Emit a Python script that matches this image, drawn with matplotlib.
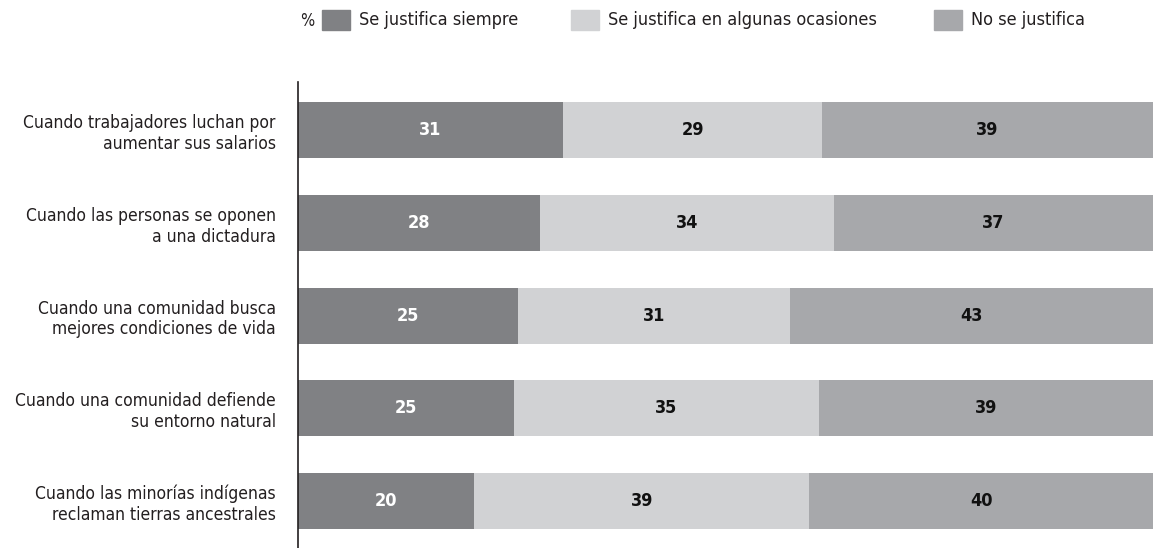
import matplotlib.pyplot as plt
from matplotlib.patches import Rectangle
import numpy as np

# Datos (en %)
categorias = [
    "Cuando trabajadores luchan por\naumentar sus salarios",
    "Cuando las personas se oponen\na una dictadura",
    "Cuando una comunidad busca\nmejores condiciones de vida",
    "Cuando una comunidad defiende\nsu entorno natural",
    "Cuando las minorías indígenas\nreclaman tierras ancestrales",
]
series = ["Se justifica siempre", "Se justifica en algunas ocasiones", "No se justifica"]

# largo de las barras
siempre = [31.0, 28.3, 25.7, 25.3, 20.6]
algunas = [30.3, 34.4, 31.9, 35.6, 39.2]
no_just = [38.7, 37.3, 42.4, 39.1, 40.2]

# etiquetas impresas
etiq_siempre = [31, 28, 25, 25, 20]
etiq_algunas = [29, 34, 31, 35, 39]
etiq_no = [39, 37, 43, 39, 40]

colores = ["#808184", "#d1d2d4", "#a7a8ab"]
color_texto = ["white", "#111111", "#111111"]
texto = "#231f20"

plt.rcParams['font.family'] = ['DejaVu Sans']
plt.rcParams['font.stretch'] = 'condensed'

W, H = 1153, 548
fig = plt.figure(figsize=(W / 100, H / 100), dpi=100)
ax = fig.add_axes([298 / W, 0, 1 - 298 / W, 1 - 82 / H])

y = np.arange(len(categorias))
izq = np.zeros(len(categorias))
for vals, etiq, col, ctxt in zip([siempre, algunas, no_just],
                                 [etiq_siempre, etiq_algunas, etiq_no],
                                 colores, color_texto):
    bars = ax.barh(y, vals, left=izq, height=0.604, color=col)
    ax.bar_label(bars, labels=[str(e) for e in etiq], label_type='center',
                 color=ctxt, fontsize=13, fontweight='bold')
    izq += np.array(vals)

ax.set_xlim(0, 100)
ax.set_ylim(4.507, -0.518)
ax.set_yticks(y)
ax.set_yticklabels(categorias, fontsize=12.5, color=texto, ha='right', linespacing=1.2)
ax.tick_params(axis='y', length=0, pad=16)
ax.set_xticks([])
for s in ['top', 'right', 'bottom']:
    ax.spines[s].set_visible(False)
ax.spines['left'].set_color('#231f20')
ax.spines['left'].set_linewidth(1.2)

# Leyenda
fig.text(300 / W, 1 - 21 / H, "%", fontsize=12, color=texto, va='center', ha='left')
leg_x = [322, 571, 934]
for lx, col, nom in zip(leg_x, colores, series):
    fig.add_artist(Rectangle((lx / W, 1 - 30 / H), 28 / W, 20 / H,
                             transform=fig.transFigure, color=col))
    fig.text((lx + 37) / W, 1 - 20 / H, nom, fontsize=13, color=texto, va='center', ha='left')

fig.savefig("out.png", dpi=100)
